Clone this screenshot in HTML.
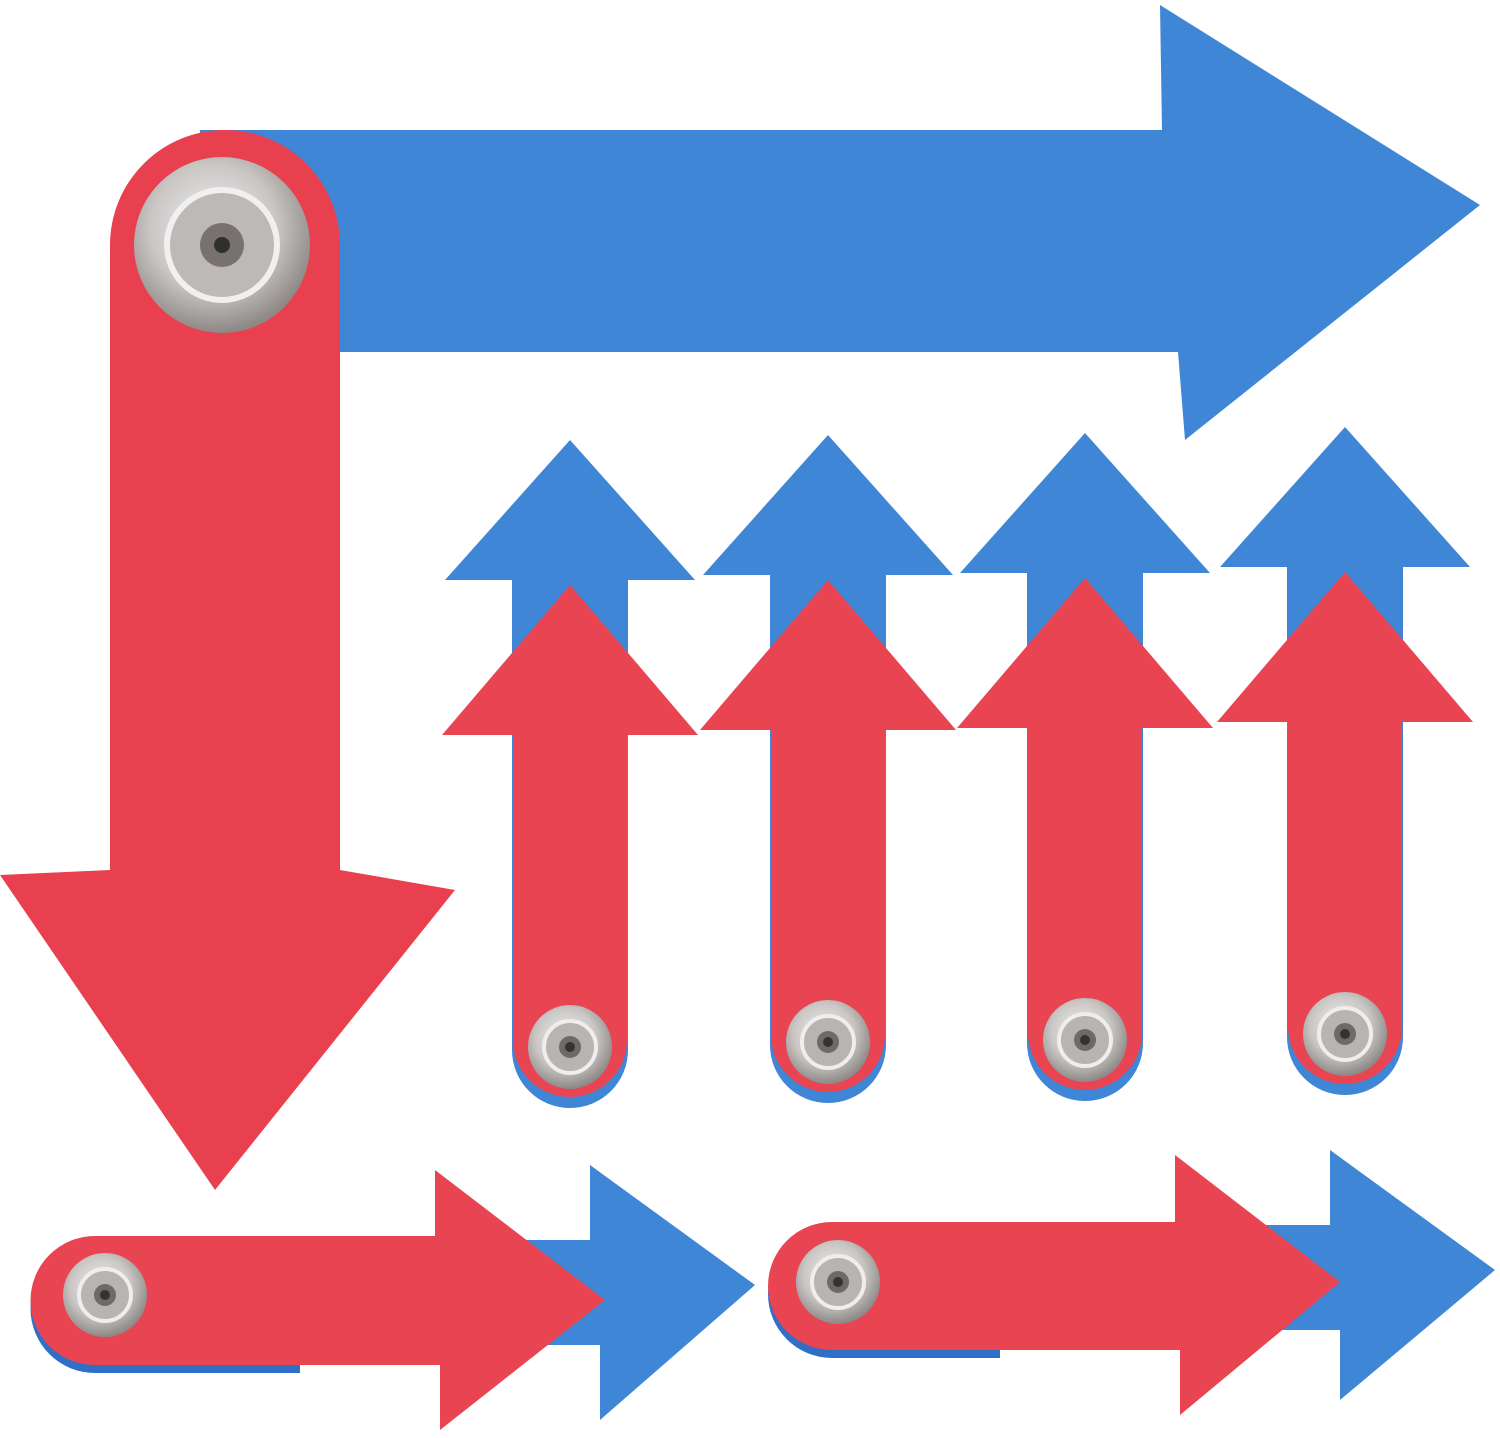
<!DOCTYPE html>
<html><head><meta charset="utf-8"><style>html,body{margin:0;padding:0;background:#fff}svg{display:block}</style></head>
<body>
<svg width="1500" height="1438" viewBox="0 0 1500 1438" xmlns="http://www.w3.org/2000/svg">
<defs>
<radialGradient id="rv" cx="45%" cy="40%" r="60%"><stop offset="0" stop-color="#f2f2f2"/><stop offset="0.6" stop-color="#c9c6c4"/><stop offset="1" stop-color="#8d8886"/></radialGradient>
<g id="rivetS"><circle r="42" fill="url(#rv)"/><circle r="26" fill="#b8b4b2" stroke="#eee" stroke-width="4"/><circle r="11" fill="#6f6a68"/><circle r="5" fill="#333"/></g>
<g id="small">
  <path d="M0,-145 L125,-5 L58,-5 L58,465 A58,58 0 0 1 -58,465 L-58,-5 L-125,-5 Z" fill="#3f86d6"/>
  <path d="M0,0 L128,150 L57,150 L57,455 A57,57 0 0 1 -57,455 L-57,150 L-128,150 Z" fill="#e84452"/>
  <use href="#rivetS" x="0" y="462"/>
</g>
</defs>
<polygon points="200,130 1162,130 1160,5 1480,205 1185,440 1178,352 330,352 200,352" fill="#3f86d6"/>
<path d="M110,245 A112,112 0 0 1 340,245 L340,870 L455,890 L215,1190 L0,875 L110,870 Z" fill="#e8404e"/>
<circle cx="222" cy="245" r="88" fill="url(#rv)"/>
<circle cx="222" cy="245" r="55" fill="#bdb9b7" stroke="#f0f0f0" stroke-width="6"/>
<circle cx="222" cy="245" r="22" fill="#77716f"/>
<circle cx="222" cy="245" r="8" fill="#2f2f2f"/>
<use href="#small" x="570" y="585"/>
<use href="#small" x="828" y="580"/>
<use href="#small" x="1085" y="578"/>
<use href="#small" x="1345" y="572"/>
<g>
  <polygon points="440,1240 590,1240 590,1165 755,1285 600,1420 600,1345 440,1345" fill="#3f86d6"/>
  <path d="M95,1244 L300,1244 L300,1373 L95,1373 A64,64 0 0 1 95,1244 Z" fill="#2f6fc6"/>
  <path d="M95,1236 L435,1236 L435,1170 L605,1300 L440,1430 L440,1365 L95,1365 A64,64 0 0 1 95,1236 Z" fill="#e84452"/>
  <use href="#rivetS" x="105" y="1295"/>
</g>
<g>
  <polygon points="1180,1225 1330,1225 1330,1150 1495,1270 1340,1400 1340,1330 1180,1330" fill="#3f86d6"/>
  <path d="M832,1230 L1000,1230 L1000,1358 L832,1358 A64,64 0 0 1 832,1230 Z" fill="#2f6fc6"/>
  <path d="M832,1222 L1175,1222 L1175,1155 L1340,1282 L1180,1415 L1180,1350 L832,1350 A64,64 0 0 1 832,1222 Z" fill="#e84452"/>
  <use href="#rivetS" x="838" y="1282"/>
</g>
</svg>
</body></html>
